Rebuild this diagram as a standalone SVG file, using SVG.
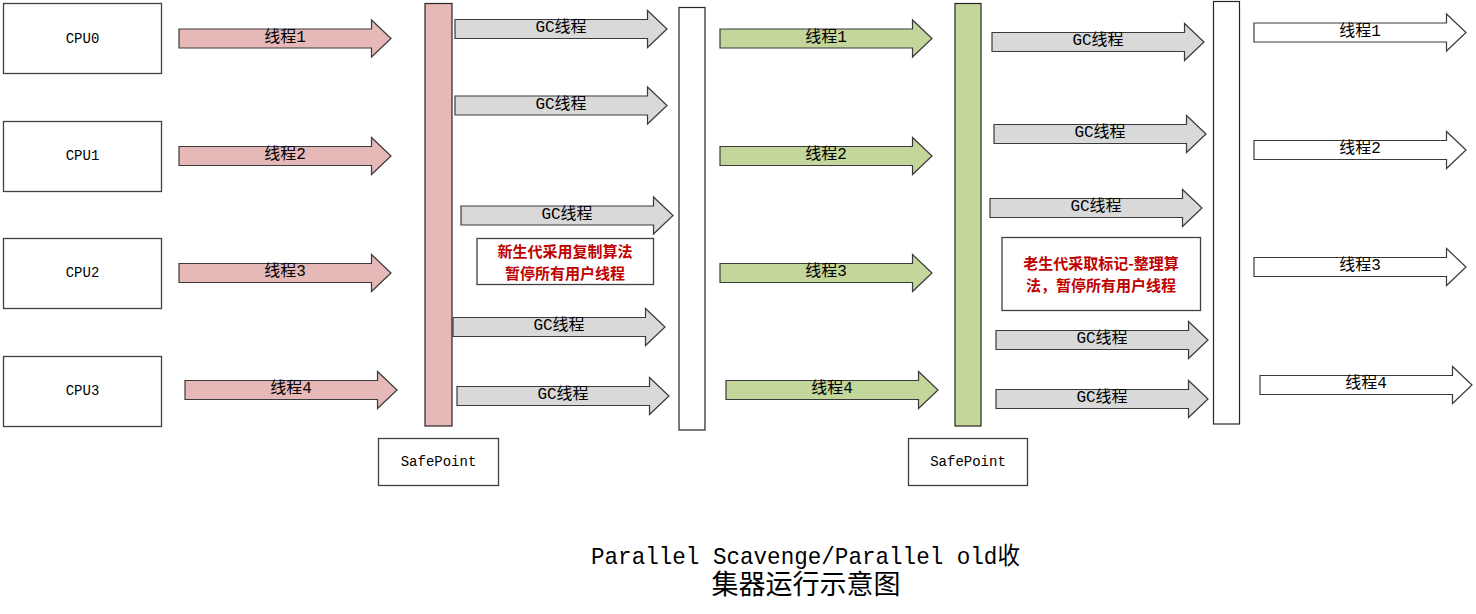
<svg xmlns="http://www.w3.org/2000/svg" xmlns:xlink="http://www.w3.org/1999/xlink" width="1476" height="614" viewBox="0 0 1476 614">
<style>
.box{fill:#fff;stroke:#404040;stroke-width:1.3}
.bar{stroke:#262626;stroke-width:1.2}
.pink{fill:#e6b9b8}
.green{fill:#c3d69b}
.grey{fill:#d9d9d9}
.white{fill:#fff}
.arrow{stroke:#3a3a3a;stroke-width:1.2}
.lbl{font-family:"Liberation Mono","Noto Sans CJK SC",monospace;font-size:16px;fill:#000;text-anchor:middle;dominant-baseline:central}
.mono{font-family:"Liberation Mono","Noto Sans CJK SC",monospace;font-size:14px;fill:#000;text-anchor:middle;dominant-baseline:central}
.red{font-family:"Noto Sans CJK SC",sans-serif;font-size:15px;font-weight:bold;fill:#c00000;text-anchor:middle;dominant-baseline:central}
.title{font-family:"Liberation Mono","Noto Sans CJK SC",monospace;font-size:24px;fill:#000;text-anchor:middle}
</style>
<defs>
<path id="arr" d="M0,-9.5 H192.5 V-18.5 L212,0 L192.5,18.5 V9.5 H0 Z"/>
</defs>

<g id="cpu0"><rect class="box" x="3.5" y="3.5" width="158" height="70"/><text class="mono" x="82.5" y="38.5">CPU0</text></g>
<g id="cpu1"><rect class="box" x="3.5" y="121.5" width="158" height="70"/><text class="mono" x="82.5" y="156">CPU1</text></g>
<g id="cpu2"><rect class="box" x="3.5" y="238.5" width="158" height="70"/><text class="mono" x="82.5" y="273">CPU2</text></g>
<g id="cpu3"><rect class="box" x="3.5" y="356.5" width="158" height="70"/><text class="mono" x="82.5" y="391">CPU3</text></g>

<g id="bar1"><rect class="bar pink" x="425" y="3.5" width="27" height="422.5"/></g>
<g id="bar2"><rect class="bar white" x="679" y="7.5" width="26" height="422.5"/></g>
<g id="bar3"><rect class="bar green" x="955" y="3.5" width="26" height="422.5"/></g>
<g id="bar4"><rect class="bar white" x="1213.5" y="1.5" width="26" height="422.5"/></g>

<g id="safepoint1"><rect class="box" x="378.5" y="438.5" width="120" height="47"/><text class="mono" x="438.5" y="462">SafePoint</text></g>
<g id="safepoint2"><rect class="box" x="908.5" y="438.5" width="119" height="47"/><text class="mono" x="968" y="462">SafePoint</text></g>

<g id="note1"><rect class="box" x="477" y="238.5" width="176.5" height="46"/><text class="red" x="565" y="250">新生代采用复制算法</text><text class="red" x="565" y="272">暂停所有用户线程</text></g>
<g id="note2"><rect class="box" x="1002" y="237.5" width="198.5" height="73"/><text class="red" x="1101" y="262">老生代采取标记-整理算</text><text class="red" x="1101" y="284">法，暂停所有用户线程</text></g>

<g id="connectors">
<g class="arrow pink">
<use xlink:href="#arr" x="179" y="38.5"/>
<use xlink:href="#arr" x="179" y="156"/>
<use xlink:href="#arr" x="179" y="273"/>
<use xlink:href="#arr" x="185" y="390"/>
</g>
<g class="arrow grey">
<use xlink:href="#arr" x="455" y="29"/>
<use xlink:href="#arr" x="455" y="105.5"/>
<use xlink:href="#arr" x="461" y="215.5"/>
<use xlink:href="#arr" x="453" y="327"/>
<use xlink:href="#arr" x="457" y="396"/>
</g>
<g class="arrow green">
<use xlink:href="#arr" x="720" y="38.5"/>
<use xlink:href="#arr" x="720" y="156"/>
<use xlink:href="#arr" x="720" y="273"/>
<use xlink:href="#arr" x="726" y="390"/>
</g>
<g class="arrow grey">
<use xlink:href="#arr" x="992" y="42"/>
<use xlink:href="#arr" x="994" y="134"/>
<use xlink:href="#arr" x="990" y="208"/>
<use xlink:href="#arr" x="996" y="340"/>
<use xlink:href="#arr" x="996" y="399"/>
</g>
<g class="arrow white">
<use xlink:href="#arr" x="1254" y="32.5"/>
<use xlink:href="#arr" x="1254" y="150"/>
<use xlink:href="#arr" x="1254" y="267"/>
<use xlink:href="#arr" x="1260" y="385"/>
</g>
<g id="arrow-labels">
<text class="lbl" x="285" y="37.5">线程1</text>
<text class="lbl" x="285" y="155">线程2</text>
<text class="lbl" x="285" y="272">线程3</text>
<text class="lbl" x="291" y="389">线程4</text>
<text class="lbl" x="561" y="28">GC线程</text>
<text class="lbl" x="561" y="104.5">GC线程</text>
<text class="lbl" x="567" y="214.5">GC线程</text>
<text class="lbl" x="559" y="326">GC线程</text>
<text class="lbl" x="563" y="395">GC线程</text>
<text class="lbl" x="826" y="37.5">线程1</text>
<text class="lbl" x="826" y="155">线程2</text>
<text class="lbl" x="826" y="272">线程3</text>
<text class="lbl" x="832" y="389">线程4</text>
<text class="lbl" x="1098" y="41">GC线程</text>
<text class="lbl" x="1100" y="133">GC线程</text>
<text class="lbl" x="1096" y="207">GC线程</text>
<text class="lbl" x="1102" y="339">GC线程</text>
<text class="lbl" x="1102" y="398">GC线程</text>
<text class="lbl" x="1360" y="31.5">线程1</text>
<text class="lbl" x="1360" y="149">线程2</text>
<text class="lbl" x="1360" y="266">线程3</text>
<text class="lbl" x="1366" y="384">线程4</text>
</g>
</g>

<g id="title">
<text class="title" x="805.5" y="564" textLength="429" lengthAdjust="spacingAndGlyphs">Parallel Scavenge/Parallel old收</text>
<text class="title" x="806" y="594" style="font-size:27px">集器运行示意图</text>
</g>
</svg>
